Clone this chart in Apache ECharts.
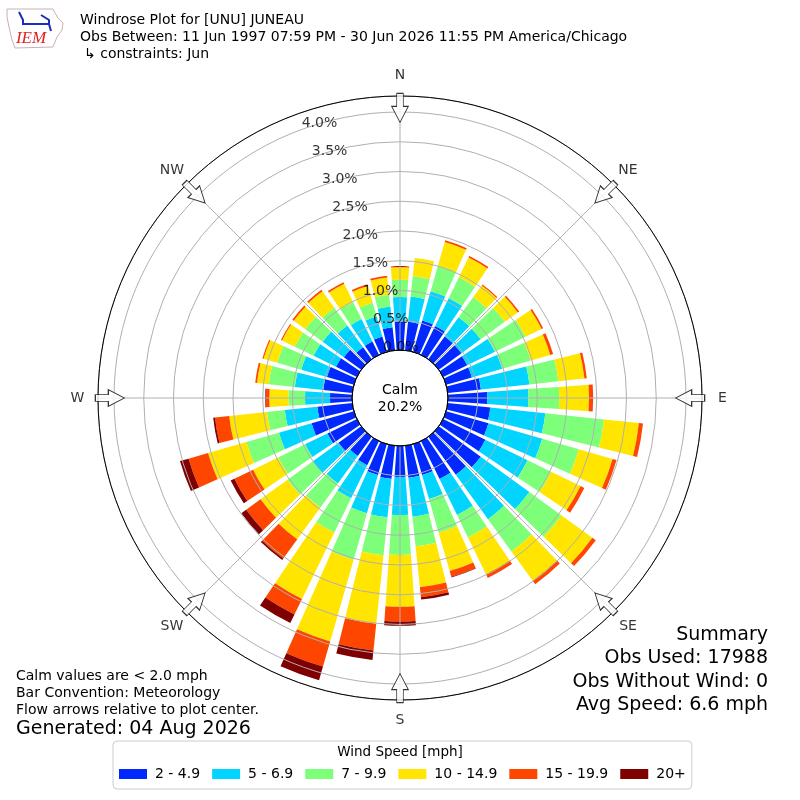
<!DOCTYPE html>
<html>
<head>
<meta charset="utf-8">
<script src="https://cdn.jsdelivr.net/npm/echarts@6/dist/echarts.min.js"></script>
<style>html,body{margin:0;padding:0;background:#fff}#c{width:800px;height:800px}</style>
</head>
<body>
<div id="c"></div>
<script>
// ---- data (percent of observations per direction and speed bin) ----
const directions = ['0','10','20','30','40','50','60','70','80','90','100','110','120','130','140','150','160','170',
                    '180','190','200','210','220','230','240','250','260','270','280','290','300','310','320','330','340','350'];
const speedBins = ['2 - 4.9', '5 - 6.9', '7 - 9.9', '10 - 14.9', '15 - 19.9', '20+'];
const binColors = ['#0028ff', '#00d4ff', '#7dff7a', '#ffe500', '#ff4600', '#7f0000'];

const bin2to5 = [0.48,0.48,0.55,0.54,0.47,0.47,0.45,0.45,0.56,0.66,0.72,0.74,0.79,0.87,0.79,0.71,0.54,0.54,
                 0.52,0.56,0.54,0.45,0.40,0.47,0.55,0.74,0.59,0.37,0.49,0.47,0.39,0.36,0.25,0.25,0.27,0.39];
const bin5to7 = [0.41,0.43,0.51,0.52,0.40,0.40,0.52,0.53,0.82,0.69,0.93,0.94,0.79,1.01,0.92,0.67,0.42,0.66,
                 0.64,0.65,0.67,0.62,0.57,0.54,0.42,0.57,0.55,0.42,0.48,0.45,0.42,0.44,0.45,0.42,0.35,0.35];
const bin7to10 = [0.29,0.34,0.44,0.39,0.42,0.50,0.57,0.50,0.49,0.52,0.99,0.64,0.44,0.67,0.67,0.42,0.59,0.50,
                  0.67,0.64,0.81,0.64,0.50,0.52,0.50,0.57,0.30,0.28,0.44,0.42,0.35,0.36,0.37,0.32,0.24,0.20];
const bin10to15 = [0.21,0.31,0.42,0.37,0.24,0.27,0.30,0.34,0.44,0.50,0.59,0.59,0.55,0.64,0.61,0.69,0.67,0.69,
                   0.87,1.16,1.43,1.24,0.66,0.56,0.47,0.67,0.64,0.32,0.20,0.24,0.24,0.24,0.34,0.34,0.29,0.29];
const bin15to20 = [0.02,0.00,0.03,0.03,0.02,0.03,0.03,0.05,0.04,0.07,0.07,0.07,0.07,0.07,0.07,0.07,0.10,0.17,
                   0.25,0.45,0.44,0.29,0.40,0.30,0.35,0.34,0.24,0.06,0.03,0.02,0.02,0.03,0.03,0.03,0.03,0.03];
const bin20plus = [0,0,0,0,0,0,0,0,0,0,0,0,0,0,0,0,0.01,0.04,
                   0.07,0.16,0.24,0.16,0.03,0.10,0.07,0.15,0.03,0.01,0,0,0,0,0,0,0,0];

const radialTicks = [0.0, 0.5, 1.0, 1.5, 2.0, 2.5, 3.0, 3.5, 4.0];
const compassLabels = ['N','NE','E','SE','S','SW','W','NW'];
const compassAngles = [0, 45, 90, 135, 180, 225, 270, 315];
const calmPercent = 20.2;

const titleLines = ['Windrose Plot for [UNU] JUNEAU',
                    'Obs Between: 11 Jun 1997 07:59 PM - 30 Jun 2026 11:55 PM America/Chicago',
                    '\u21b3 constraints: Jun'];
const noteLines = ['Calm values are < 2.0 mph', 'Bar Convention: Meteorology', 'Flow arrows relative to plot center.'];
const generatedText = 'Generated: 04 Aug 2026';
const summaryLines = ['Summary', 'Obs Used: 17988', 'Obs Without Wind: 0', 'Avg Speed: 6.6 mph'];

// ---- layout ----
const FONT = 'DejaVu Sans';
const CENTER = [400, 398];
const R_IN = 48, R_OUT = 302;
const RMAX = 4.269;
const LABEL_ANGLE = 340;
const ARROW_R = 4.07;
const COMPASS_R = 4.613;

const binData = [bin2to5, bin5to7, bin7to10, bin10to15, bin15to20, bin20plus];

const barSeries = binData.map((d, i) => ({
  name: speedBins[i],
  type: 'bar',
  coordinateSystem: 'polar',
  polarIndex: 0,
  stack: 'wind',
  data: d,
  barCategoryGap: '20%',
  itemStyle: { color: binColors[i] },
  silent: true,
  z: 2
}));

const arrowPath = 'path://M-3.3,-14.5 L3.3,-14.5 L3.3,-1.5 L8.3,-1.5 L0,14.5 L-8.3,-1.5 L-3.3,-1.5 Z';

const txt = (text, x, y, size, align, extra) => Object.assign({
  type: 'text', x: x, y: y, z: 100,
  style: { text: text, fill: '#000', font: size + 'px "' + FONT + '"', align: align || 'left', verticalAlign: 'middle' }
}, extra || {});

const graphics = [];
titleLines.forEach((t, i) => graphics.push(txt(t, i === 2 ? 84 : 80, [20, 37.5, 54][i], 14)));
noteLines.forEach((t, i) => graphics.push(txt(t, 16, 676 + i * 17, 14)));
graphics.push(txt(generatedText, 16, 729, 19));
summaryLines.forEach((t, i) => graphics.push(txt(t, 768, [635, 658, 682, 705][i], 19, 'right')));
graphics.push(txt('Wind Speed [mph]', 400, 752, 13.5, 'center'));
graphics.push(txt('Calm', 400, 390, 14, 'center'));
graphics.push(txt(calmPercent.toFixed(1) + '%', 400, 407, 14, 'center'));
// IEM logo (approximate)
graphics.push({ type: 'polygon', z: 100, shape: { points: [[7,9],[53,9],[55,13],[58,18],[63,23],[62,30],[57,37],[53,47],[15,48],[12,40],[9,27],[7,17]] },
  style: { fill: 'none', stroke: '#c9b0b0', lineWidth: 1 } });
graphics.push({ type: 'polyline', z: 100, shape: { points: [[19,12],[23,20],[23,24],[50,24]] }, style: { stroke: '#1c2cc0', lineWidth: 2, fill: 'none' } });
graphics.push({ type: 'polyline', z: 100, shape: { points: [[41,15],[49,20],[49,24],[51,31]] }, style: { stroke: '#1c2cc0', lineWidth: 2, fill: 'none' } });
graphics.push({ type: 'text', x: 31, y: 39, z: 100, style: { text: 'IEM', fill: '#d22', font: 'italic 17px "Liberation Serif"', align: 'center', verticalAlign: 'middle' } });

const option = {
  animation: false,
  backgroundColor: '#fff',
  polar: [
    { center: CENTER, radius: [R_IN, R_OUT] },
    { center: CENTER, radius: [R_IN, R_OUT] },
    { center: CENTER, radius: [0, R_IN] }
  ],
  angleAxis: [
    { polarIndex: 0, type: 'category', data: directions, startAngle: 95, clockwise: true, boundaryGap: true,
      axisLine: { show: false }, axisTick: { show: false }, axisLabel: { show: false }, splitLine: { show: false } },
    { polarIndex: 1, type: 'value', min: 0, max: 360, interval: 45, startAngle: 90, clockwise: true, z: 6,
      axisLine: { show: true, lineStyle: { color: '#000', width: 1 } },
      axisTick: { show: false },
      axisLabel: { show: false },
      splitLine: { show: true, lineStyle: { color: '#b0b0b0', width: 1 } } },
    { polarIndex: 2, type: 'value', min: 0, max: 360, startAngle: 90, z: 7,
      axisLine: { show: true, lineStyle: { color: '#000', width: 1 } },
      axisTick: { show: false }, axisLabel: { show: false }, splitLine: { show: false } }
  ],
  radiusAxis: [
    { polarIndex: 0, type: 'value', min: 0, max: RMAX, show: false },
    { polarIndex: 1, type: 'value', min: 0, max: RMAX, interval: 0.5, z: 5,
      axisLine: { show: false }, axisTick: { show: false }, axisLabel: { show: false },
      splitLine: { show: true, lineStyle: { color: '#b0b0b0', width: 1 } } },
    { polarIndex: 2, type: 'value', min: 0, max: 1, show: false }
  ],
  legend: {
    data: speedBins, left: 113, top: 741, orient: 'horizontal',
    icon: 'rect', itemWidth: 28, itemHeight: 10, itemGap: 12,
    padding: [26, 6, 8, 6],
    borderColor: '#cccccc', borderWidth: 1, borderRadius: 4,
    textStyle: { fontSize: 14, fontFamily: FONT, color: '#000', padding: [0, 0, 0, 3] },
    selectedMode: false
  },
  series: barSeries.concat([
    { type: 'scatter', coordinateSystem: 'polar', polarIndex: 1, z: 10, silent: true,
      data: radialTicks.map(v => [v, LABEL_ANGLE]),
      symbolSize: 1, itemStyle: { color: 'rgba(0,0,0,0)' },
      label: { show: true, position: [0, 2], align: 'left', verticalAlign: 'bottom',
        formatter: p => p.value[0].toFixed(1) + '%', color: '#000', fontSize: 14, fontFamily: FONT } },
    { type: 'scatter', coordinateSystem: 'polar', polarIndex: 1, z: 11, silent: true,
      data: compassAngles.map(a => [ARROW_R, a]),
      symbol: arrowPath, symbolSize: [16.6, 29],
      symbolRotate: (val) => -val[1],
      itemStyle: { color: '#fff', borderColor: '#000', borderWidth: 1 } },
    { type: 'scatter', coordinateSystem: 'polar', polarIndex: 1, z: 11, silent: true, clip: false,
      data: compassAngles.map((a, i) => ({ value: [COMPASS_R, a], name: compassLabels[i] })),
      symbolSize: 1, itemStyle: { color: 'rgba(0,0,0,0)' },
      label: { show: true, position: 'inside', align: 'center', verticalAlign: 'middle',
        formatter: p => p.name, color: '#000', fontSize: 14, fontFamily: FONT } }
  ]),
  graphic: { elements: graphics }
};

const chart = echarts.init(document.getElementById('c'), null, { renderer: 'canvas', width: 800, height: 800 });
chart.setOption(option);
</script>
</body>
</html>
